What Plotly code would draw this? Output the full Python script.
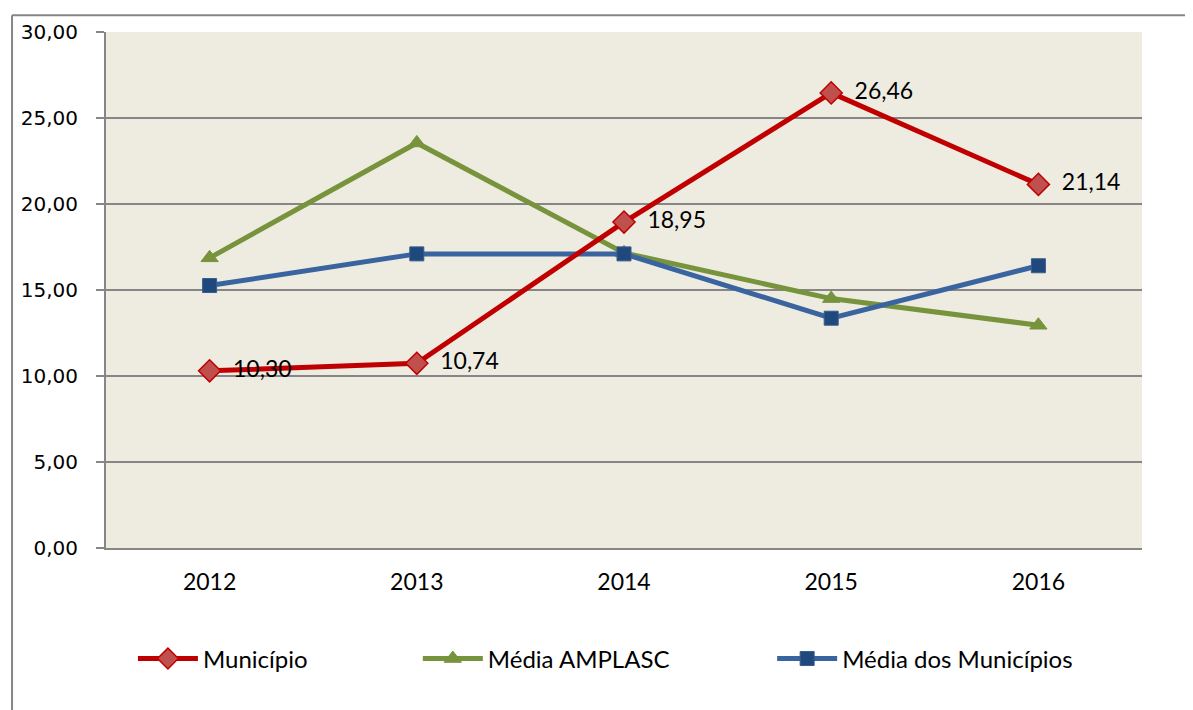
import plotly.graph_objects as go

anos = ["2012", "2013", "2014", "2015", "2016"]
municipio = [10.30, 10.74, 18.95, 26.46, 21.14]
media_amplasc = [16.87, 23.55, 17.16, 14.50, 12.95]
media_municipios = [15.26, 17.10, 17.10, 13.36, 16.41]

label_font = dict(family="Lato, Calibri, sans-serif", size=23, color="#000000")
legend_font = dict(family="Lato, Calibri, sans-serif", size=24, color="#000000")

fig = go.Figure()

# verde primeiro, depois azul, vermelho por cima
fig.add_trace(go.Scatter(
    x=anos, y=media_amplasc, name="Média AMPLASC",
    mode="lines+markers",
    line=dict(color="#77933C", width=5),
    marker=dict(symbol="triangle-up", size=15, color="#77933C",
                line=dict(color="#77933C", width=1)),
    legend="legend2", hoverinfo="skip",
))
fig.add_trace(go.Scatter(
    x=anos, y=media_municipios, name="Média dos Municípios",
    mode="lines+markers",
    line=dict(color="#3A64A0", width=5),
    marker=dict(symbol="square", size=14, color="#1F497D",
                line=dict(color="#385D8A", width=1)),
    legend="legend3", hoverinfo="skip",
))
fig.add_trace(go.Scatter(
    x=anos, y=municipio, name="Município",
    mode="lines+markers+text",
    line=dict(color="#C00000", width=5),
    marker=dict(symbol="diamond", size=17, color="#C0504D",
                line=dict(color="#C00000", width=1.5)),
    texttemplate="  %{y:.2f}", textposition="middle right",
    textfont=label_font,
    legend="legend", hoverinfo="skip",
))

legend_common = dict(
    orientation="h", yanchor="middle", xanchor="left", y=-0.215,
    font=legend_font, bgcolor="rgba(0,0,0,0)", itemwidth=60,
)

# a página tem 8px de margem no body, compensado nas margens
fig.update_layout(
    width=1185, height=702,
    margin=dict(l=98, r=51, t=19, b=162),
    paper_bgcolor="white",
    plot_bgcolor="#EEECE1",
    separators=",.",
    showlegend=True,
    legend=dict(x=0.026, **legend_common),
    legend2=dict(x=0.301, **legend_common),
    legend3=dict(x=0.643, **legend_common),
    xaxis=dict(
        type="category", range=[-0.5, 4.5],
        showgrid=False, showline=True, linecolor="#868686", linewidth=2,
        ticks="", tickfont=label_font, ticklabelstandoff=12,
    ),
    yaxis=dict(
        range=[0, 30], dtick=5, tickformat=".2f",
        showgrid=True, gridcolor="#868686", gridwidth=2,
        showline=True, linecolor="#868686", linewidth=2,
        ticks="outside", ticklen=8, tickcolor="#868686", tickwidth=2,
        ticklabelstandoff=14,
        tickfont=dict(family="DejaVu Sans, Verdana, sans-serif", size=20, color="#000000"),
        zeroline=False,
    ),
    shapes=[
        dict(type="line", xref="paper", yref="paper", x0=-0.0907, x1=1.06,
             y0=1.0326, y1=1.0326, line=dict(color="#868686", width=2)),
        dict(type="line", xref="paper", yref="paper", x0=-0.0907, x1=-0.0907,
             y0=1.0326, y1=-0.32, line=dict(color="#868686", width=2)),
    ],
)

fig.write_html("out.html")
